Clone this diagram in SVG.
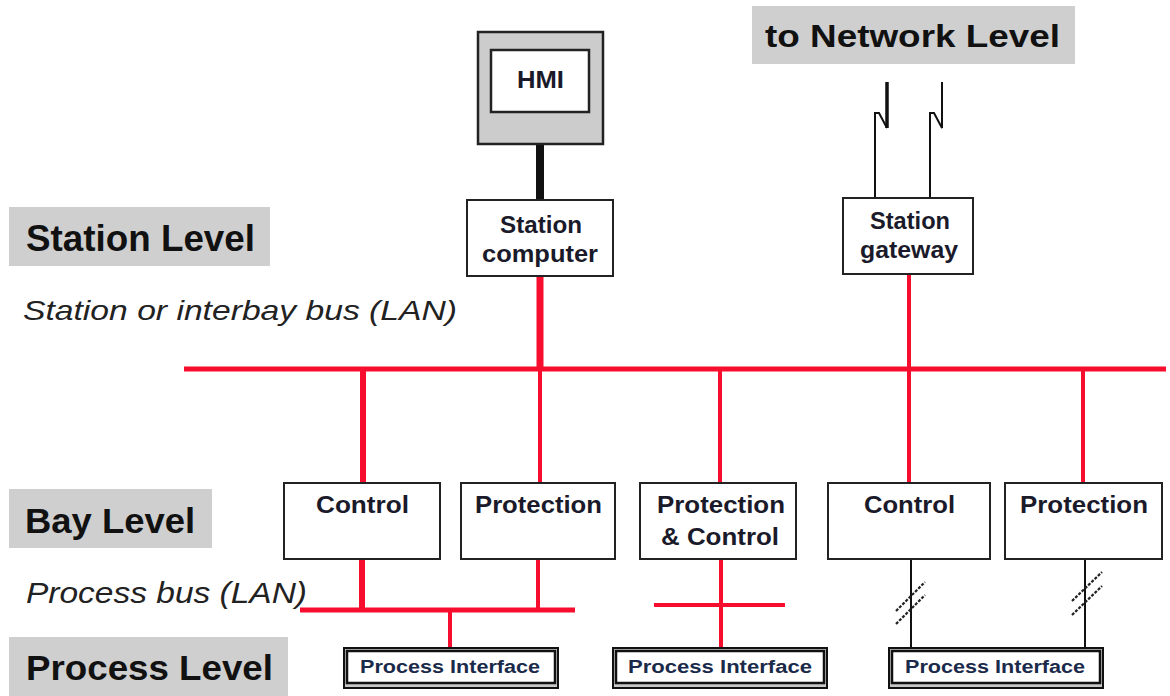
<svg xmlns="http://www.w3.org/2000/svg" width="1170" height="696" viewBox="0 0 1170 696">
<style>
.lbl{fill:#cfcfcf;stroke:none}
.big{font-family:"Liberation Sans",Arial,sans-serif;font-weight:bold;fill:#111}
.ital{font-family:"Liberation Sans",Arial,sans-serif;font-style:italic;fill:#222}
.box{fill:#fff;stroke:#222;stroke-width:2}
.t{font-family:"Liberation Sans",Arial,sans-serif;font-weight:bold;font-size:23px;fill:#1a1a2a}
.pi{font-family:"Liberation Sans",Arial,sans-serif;font-weight:bold;font-size:18px;fill:#1a2a4a}
.red{stroke:#f70d2d;fill:none}
.blk{stroke:#111;fill:none}
.sl{stroke:#222;stroke-width:2.2;stroke-dasharray:3 1.5;fill:none}
</style>
<rect width="1170" height="696" fill="#fff"/>

<g id="labels">
  <rect class="lbl" x="752" y="6" width="323" height="58"/>
  <text class="big" x="765" y="47" font-size="31" textLength="295" lengthAdjust="spacingAndGlyphs">to Network Level</text>
  <rect class="lbl" x="9" y="207" width="261" height="59"/>
  <text class="big" x="26" y="251" font-size="37" textLength="229" lengthAdjust="spacingAndGlyphs">Station Level</text>
  <text class="ital" x="23" y="320" font-size="28" textLength="434" lengthAdjust="spacingAndGlyphs">Station or interbay bus (LAN)</text>
  <rect class="lbl" x="9" y="489" width="203" height="59"/>
  <text class="big" x="25" y="533" font-size="35" textLength="170" lengthAdjust="spacingAndGlyphs">Bay Level</text>
  <text class="ital" x="26" y="603" font-size="30" textLength="281" lengthAdjust="spacingAndGlyphs">Process bus (LAN)</text>
  <rect class="lbl" x="9" y="637" width="279" height="59"/>
  <text class="big" x="26" y="680" font-size="35" textLength="247" lengthAdjust="spacingAndGlyphs">Process Level</text>
</g>

<g id="connectors">
  <line class="blk" x1="540" y1="145" x2="540" y2="200" stroke-width="8"/>
  <path class="blk" d="M875,198 V113 L879,113 L887,128" stroke-width="2"/>
  <line class="blk" x1="887" y1="128" x2="887" y2="82" stroke-width="3.5"/>
  <path class="blk" d="M930,198 V113 L934,113 L942,128 V82" stroke-width="2"/>
  <line class="red" x1="184" y1="369" x2="1166" y2="369" stroke-width="5"/>
  <line class="red" x1="540" y1="276" x2="540" y2="369" stroke-width="7"/>
  <line class="red" x1="909" y1="274" x2="909" y2="369" stroke-width="4"/>
  <line class="red" x1="363" y1="369" x2="363" y2="483" stroke-width="6"/>
  <line class="red" x1="540" y1="369" x2="540" y2="483" stroke-width="4"/>
  <line class="red" x1="720" y1="369" x2="720" y2="483" stroke-width="4"/>
  <line class="red" x1="909" y1="369" x2="909" y2="483" stroke-width="4"/>
  <line class="red" x1="1083" y1="369" x2="1083" y2="483" stroke-width="4"/>
  <line class="red" x1="362" y1="559" x2="362" y2="610" stroke-width="6"/>
  <line class="red" x1="538" y1="559" x2="538" y2="610" stroke-width="4"/>
  <line class="red" x1="300" y1="610" x2="575" y2="610" stroke-width="5"/>
  <line class="red" x1="450" y1="610" x2="450" y2="647" stroke-width="4"/>
  <line class="red" x1="654" y1="605" x2="785" y2="605" stroke-width="4"/>
  <line class="red" x1="721" y1="559" x2="721" y2="648" stroke-width="4"/>
  <line class="blk" x1="911" y1="559" x2="911" y2="647" stroke-width="2"/>
  <line class="blk" x1="1085" y1="559" x2="1085" y2="647" stroke-width="2"/>
  <line class="sl" x1="896" y1="611" x2="925" y2="582"/>
  <line class="sl" x1="896" y1="624" x2="925" y2="595"/>
  <line class="sl" x1="1072" y1="601" x2="1102" y2="572"/>
  <line class="sl" x1="1072" y1="615" x2="1102" y2="586"/>
</g>

<g id="hmi">
  <rect x="478" y="32" width="125" height="112" fill="#cccccc" stroke="#222" stroke-width="2.5"/>
  <rect x="491" y="50" width="98" height="62" fill="#fff" stroke="#222" stroke-width="2.5"/>
  <text class="t" x="517" y="88" font-size="21" textLength="47" lengthAdjust="spacingAndGlyphs">HMI</text>
</g>

<g id="station-computer">
  <rect class="box" x="467" y="200" width="146" height="76"/>
  <text class="t" x="500" y="233" textLength="82" lengthAdjust="spacingAndGlyphs">Station</text>
  <text class="t" x="482" y="262" textLength="116" lengthAdjust="spacingAndGlyphs">computer</text>
</g>

<g id="station-gateway">
  <rect class="box" x="843" y="198" width="130" height="76"/>
  <text class="t" x="870" y="229" textLength="80" lengthAdjust="spacingAndGlyphs">Station</text>
  <text class="t" x="860" y="258" textLength="98" lengthAdjust="spacingAndGlyphs">gateway</text>
</g>

<g id="bay-control-1">
  <rect class="box" x="284" y="483" width="156" height="76"/>
  <text class="t" x="316" y="513" textLength="93" lengthAdjust="spacingAndGlyphs">Control</text>
</g>
<g id="bay-protection-1">
  <rect class="box" x="461" y="483" width="154" height="76"/>
  <text class="t" x="475" y="513" textLength="127" lengthAdjust="spacingAndGlyphs">Protection</text>
</g>
<g id="bay-protection-control">
  <rect class="box" x="640" y="483" width="156" height="76"/>
  <text class="t" x="657" y="513" textLength="128" lengthAdjust="spacingAndGlyphs">Protection</text>
  <text class="t" x="661" y="545" textLength="118" lengthAdjust="spacingAndGlyphs">&amp; Control</text>
</g>
<g id="bay-control-2">
  <rect class="box" x="828" y="483" width="162" height="76"/>
  <text class="t" x="864" y="513" textLength="91" lengthAdjust="spacingAndGlyphs">Control</text>
</g>
<g id="bay-protection-2">
  <rect class="box" x="1005" y="483" width="157" height="76"/>
  <text class="t" x="1020" y="513" textLength="128" lengthAdjust="spacingAndGlyphs">Protection</text>
</g>

<g id="process-interface-1">
  <rect x="344" y="648" width="214" height="40" fill="#c8c8c8" stroke="#111" stroke-width="2"/>
  <rect x="347" y="651" width="208" height="32" fill="#fff" stroke="#111" stroke-width="2.5"/>
  <text class="pi" x="360" y="673" textLength="180" lengthAdjust="spacingAndGlyphs">Process Interface</text>
</g>
<g id="process-interface-2">
  <rect x="613" y="648" width="214" height="40" fill="#c8c8c8" stroke="#111" stroke-width="2"/>
  <rect x="616" y="651" width="208" height="32" fill="#fff" stroke="#111" stroke-width="2.5"/>
  <text class="pi" x="628" y="673" textLength="184" lengthAdjust="spacingAndGlyphs">Process Interface</text>
</g>
<g id="process-interface-3">
  <rect x="889" y="648" width="214" height="40" fill="#c8c8c8" stroke="#111" stroke-width="2"/>
  <rect x="892" y="651" width="208" height="32" fill="#fff" stroke="#111" stroke-width="2.5"/>
  <text class="pi" x="905" y="673" textLength="180" lengthAdjust="spacingAndGlyphs">Process Interface</text>
</g>
</svg>
